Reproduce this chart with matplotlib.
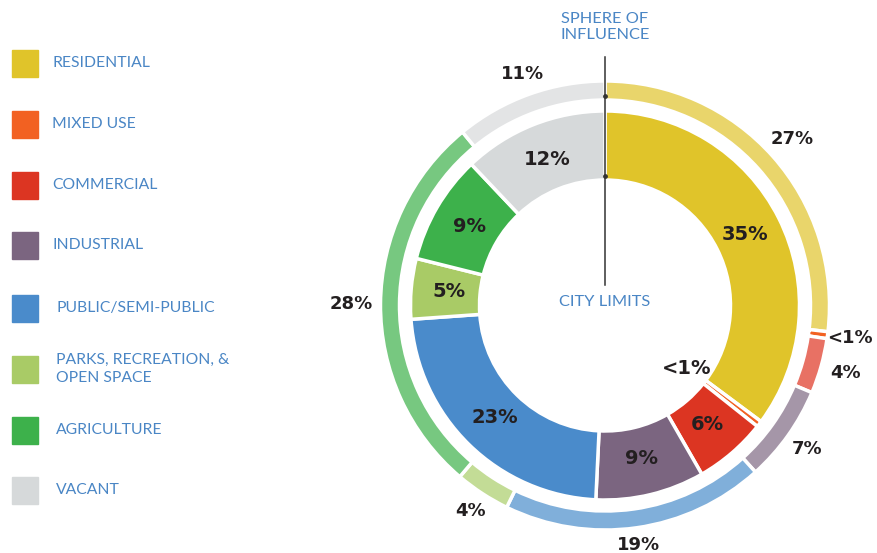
import matplotlib
matplotlib.use('Agg')
import matplotlib.pyplot as plt
import numpy as np

# land use shares, clockwise from 12 o'clock
categories = ['RESIDENTIAL', 'MIXED USE', 'COMMERCIAL', 'INDUSTRIAL',
              'PUBLIC/SEMI-PUBLIC', 'PARKS, RECREATION, &\nOPEN SPACE',
              'AGRICULTURE', 'VACANT']
city_limits = [35, 0.5, 6, 9, 23, 5, 9, 12]
city_labels = ['35%', '<1%', '6%', '9%', '23%', '5%', '9%', '12%']
sphere = [27, 0.5, 4, 7, 19, 4, 28, 11]
sphere_labels = ['27%', '<1%', '4%', '7%', '19%', '4%', '28%', '11%']

inner_colors = ['#E0C42A', '#F26122', '#DC3522', '#7B6580',
                '#4A8BCB', '#A9CB66', '#3DB14B', '#D6D9DA']
outer_colors = ['#E9D56B', '#F26122', '#E87164', '#A596A8',
                '#80AFDA', '#C3DC96', '#77C880', '#E3E4E5']

W, H = 877, 553
fig = plt.figure(figsize=(W / 100, H / 100), dpi=100)
ax = fig.add_axes([0, 0, 1, 1])

cx, cy = 605, H - 305.5
r_in_out, r_in_in = 194.5, 125.5
r_out_out, r_out_in = 224.5, 205.5

w_in, _ = ax.pie(city_limits, colors=inner_colors, radius=r_in_out, center=(cx, cy),
                 startangle=90, counterclock=False,
                 wedgeprops=dict(width=r_in_out - r_in_in, edgecolor='white', linewidth=2.5))
w_out, _ = ax.pie(sphere, colors=outer_colors, radius=r_out_out, center=(cx, cy),
                  startangle=90, counterclock=False,
                  wedgeprops=dict(width=r_out_out - r_out_in, edgecolor='white', linewidth=2.5))

ax.set_xlim(0, W)
ax.set_ylim(0, H)
ax.set_aspect('equal')
ax.axis('off')

num_font = dict(family='DejaVu Sans', fontweight='heavy', color='#231F20')


def place(wedges, labels, radii, size):
    for w, lab, r in zip(wedges, labels, radii):
        th = np.deg2rad((w.theta1 + w.theta2) / 2)
        ax.text(cx + r * np.cos(th), cy + r * np.sin(th), lab, ha='center', va='center',
                fontsize=size, **num_font)


place(w_in, city_labels, [157, 103, 157, 157, 157, 157, 157, 157], 14)
place(w_out, sphere_labels, [250, 247, 250, 248, 242, 246, 254, 246], 13)

# leader line with dots
ax.plot([cx, cx], [H - 57, H - 285], color='#333333', lw=1.1, zorder=5)
ax.scatter([cx, cx], [H - 96, H - 176], s=6, color='#333333', zorder=6)

blue = '#4A86C5'
txt_font = dict(family=['Lato', 'DejaVu Sans'], color=blue)
ax.text(cx, H - 27, 'SPHERE OF\nINFLUENCE', ha='center', va='center', fontsize=11.8,
        linespacing=1.15, **txt_font)
ax.text(cx, H - 302, 'CITY LIMITS', ha='center', va='center', fontsize=11.8,
        zorder=7, **txt_font)

# legend
leg_y = [63, 124, 185, 245, 308, 369, 430, 490]
for i, (cat, col) in enumerate(zip(categories, inner_colors)):
    y = H - leg_y[i]
    ax.add_patch(plt.Rectangle((12, y - 13.5), 26, 27, color=col))
    tx = 52 if i < 4 else 56
    ax.text(tx, y, cat, ha='left', va='center', fontsize=11.3, linespacing=1.3, **txt_font)

fig.savefig('out.png', dpi=100)
